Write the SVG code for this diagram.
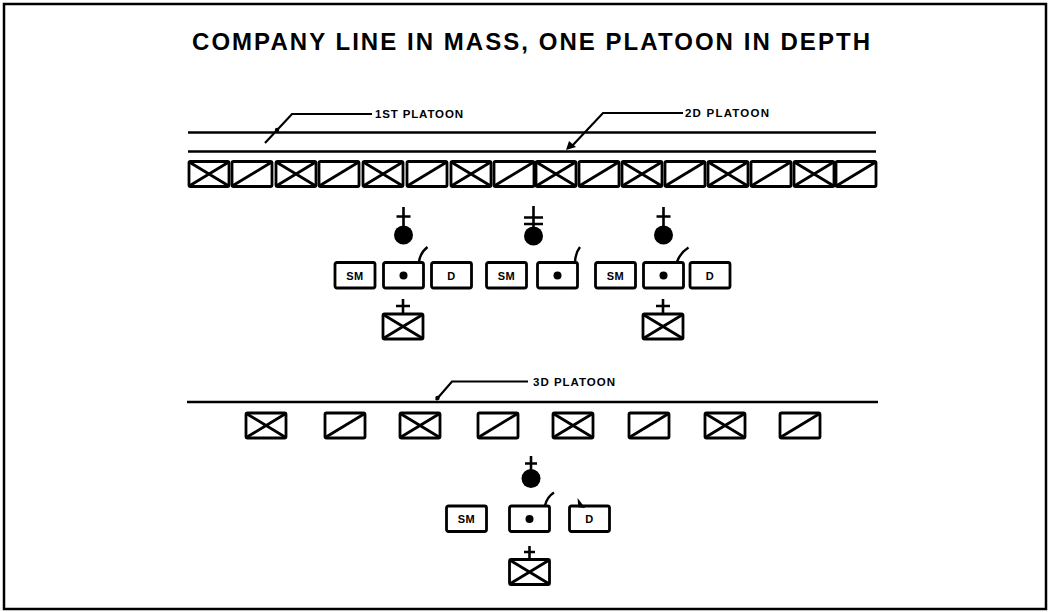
<svg xmlns="http://www.w3.org/2000/svg" xmlns:xlink="http://www.w3.org/1999/xlink" width="1049" height="612" viewBox="0 0 1049 612">
<style>
.s{fill:none;stroke:#000;stroke-width:2.8;stroke-linejoin:round}
.ln{fill:none;stroke:#000;stroke-width:2.6}
.ld{fill:none;stroke:#000;stroke-width:2.2}
.bx{fill:#fff;stroke:#000;stroke-width:2.8}
.lbl{font-family:"Liberation Sans",Arial,sans-serif;font-weight:bold;font-size:11.5px;fill:#000}
.bt{font-family:"Liberation Sans",Arial,sans-serif;font-weight:bold;font-size:11px;fill:#000;text-anchor:middle;letter-spacing:0.5px}
.ttl{font-family:"Liberation Sans",Arial,sans-serif;font-weight:bold;font-size:24px;fill:#000}
</style>
<defs>
<g id="tx"><rect class="s" x="0" y="0" width="40" height="25" rx="1.5"/><path class="s" d="M1,1 L39,24 M39,1 L1,24"/></g>
<g id="ts"><rect class="s" x="0" y="0" width="40" height="25" rx="1.5"/><path class="s" d="M1,24 L39,1"/></g>
<g id="cmd"><rect class="bx" x="0" y="0" width="40" height="25.5" rx="2"/><circle cx="20" cy="13" r="4" fill="#000"/></g>
<g id="box"><rect class="bx" x="0" y="0" width="40" height="25.5" rx="2"/></g>
</defs>
<rect x="0" y="0" width="1049" height="612" fill="#fff"/>
<rect x="4" y="4" width="1042" height="605" fill="none" stroke="#000" stroke-width="2.5"/>

<text id="title" class="ttl" x="192" y="50" textLength="678" lengthAdjust="spacing">COMPANY LINE IN MASS, ONE PLATOON IN DEPTH</text>

<g id="connectors">
<line class="ln" x1="188" y1="132.5" x2="876" y2="132.5"/>
<line class="ln" x1="188" y1="151.5" x2="876" y2="151.5"/>
<line class="ln" x1="187" y1="402" x2="878" y2="402"/>
<path class="ld" d="M372,114 L292,114 L265,143"/>
<circle cx="277" cy="130" r="2.2" fill="#000"/>
<path class="ld" d="M683,113 L603,113 L572,146"/>
<path d="M566,150 L569,141 L576,147 Z" fill="#000"/>
<path class="ld" d="M528,381.5 L452,381.5 L436,400"/>
<circle cx="437.5" cy="398" r="2.2" fill="#000"/>
</g>

<g id="labels">
<text class="lbl" x="375" y="118" textLength="88" lengthAdjust="spacing">1ST PLATOON</text>
<text class="lbl" x="685" y="117" textLength="84" lengthAdjust="spacing">2D PLATOON</text>
<text class="lbl" x="533" y="385.5" textLength="82" lengthAdjust="spacing">3D PLATOON</text>
</g>

<g id="platoon1-2">
<use xlink:href="#tx" x="189" y="161.5"/>
<use xlink:href="#ts" x="232" y="161.5"/>
<use xlink:href="#tx" x="276" y="161.5"/>
<use xlink:href="#ts" x="319" y="161.5"/>
<use xlink:href="#tx" x="363" y="161.5"/>
<use xlink:href="#ts" x="407" y="161.5"/>
<use xlink:href="#tx" x="451" y="161.5"/>
<use xlink:href="#ts" x="494" y="161.5"/>
<use xlink:href="#tx" x="536" y="161.5"/>
<use xlink:href="#ts" x="579" y="161.5"/>
<use xlink:href="#tx" x="622" y="161.5"/>
<use xlink:href="#ts" x="665" y="161.5"/>
<use xlink:href="#tx" x="708" y="161.5"/>
<use xlink:href="#ts" x="751" y="161.5"/>
<use xlink:href="#tx" x="794" y="161.5"/>
<use xlink:href="#ts" x="836" y="161.5"/>
</g>

<g id="group1">
<path class="ln" d="M403.5,207 V227 M396.5,216.5 H410.5"/>
<circle cx="403.5" cy="235" r="9.5" fill="#000"/>
<use xlink:href="#box" x="335" y="262.5"/><text class="bt" x="355" y="279.5">SM</text>
<use xlink:href="#cmd" x="383.5" y="262.5"/>
<path d="M419,262 Q420,253 427.5,247" fill="none" stroke="#000" stroke-width="2.4"/>
<use xlink:href="#box" x="431.5" y="262.5"/><text class="bt" x="451.5" y="279.5">D</text>
<path class="ln" d="M403,299 V314 M396,306 H410"/>
<use xlink:href="#tx" x="383" y="314"/>
</g>

<g id="group2">
<path class="ln" d="M533.5,206 V228 M524,217.5 H543 M524,224 H543"/>
<circle cx="533.5" cy="236" r="9.5" fill="#000"/>
<use xlink:href="#box" x="486.5" y="262.5"/><text class="bt" x="506.5" y="279.5">SM</text>
<use xlink:href="#cmd" x="537.5" y="262.5"/>
<path d="M575,262 Q575.5,253 580,247" fill="none" stroke="#000" stroke-width="2.4"/>
</g>

<g id="group3">
<path class="ln" d="M663.5,207 V227 M656.5,216.5 H670.5"/>
<circle cx="663.5" cy="235" r="9.5" fill="#000"/>
<use xlink:href="#box" x="595.5" y="262.5"/><text class="bt" x="615.5" y="279.5">SM</text>
<use xlink:href="#cmd" x="643.5" y="262.5"/>
<path d="M677,262 Q680,253 688.5,247.5" fill="none" stroke="#000" stroke-width="2.4"/>
<use xlink:href="#box" x="690" y="262.5"/><text class="bt" x="710" y="279.5">D</text>
<path class="ln" d="M663,299 V314 M656,306 H670"/>
<use xlink:href="#tx" x="643" y="314"/>
</g>

<g id="platoon3">
<use xlink:href="#tx" x="246" y="413"/>
<use xlink:href="#ts" x="325" y="413"/>
<use xlink:href="#tx" x="400" y="413"/>
<use xlink:href="#ts" x="478" y="413"/>
<use xlink:href="#tx" x="553" y="413"/>
<use xlink:href="#ts" x="629" y="413"/>
<use xlink:href="#tx" x="705" y="413"/>
<use xlink:href="#ts" x="780" y="413"/>
</g>

<g id="group4">
<path class="ln" d="M531,456 V470 M525,463.5 H537"/>
<circle cx="531" cy="478.5" r="9.5" fill="#000"/>
<use xlink:href="#box" x="446.5" y="506"/><text class="bt" x="466.5" y="523">SM</text>
<use xlink:href="#cmd" x="509.5" y="506"/>
<path d="M545,505.5 Q547,497 554,492.5" fill="none" stroke="#000" stroke-width="2.4"/>
<use xlink:href="#box" x="569.5" y="506"/><text class="bt" x="589.5" y="523">D</text>
<path d="M578.5,500.5 L583.5,507 L579,506.5 Z" fill="#000" stroke="#000" stroke-width="1.5"/>
<path class="ln" d="M529.5,546 V559.5 M524,552 H535"/>
<use xlink:href="#tx" x="509.5" y="559.5"/>
</g>
</svg>
